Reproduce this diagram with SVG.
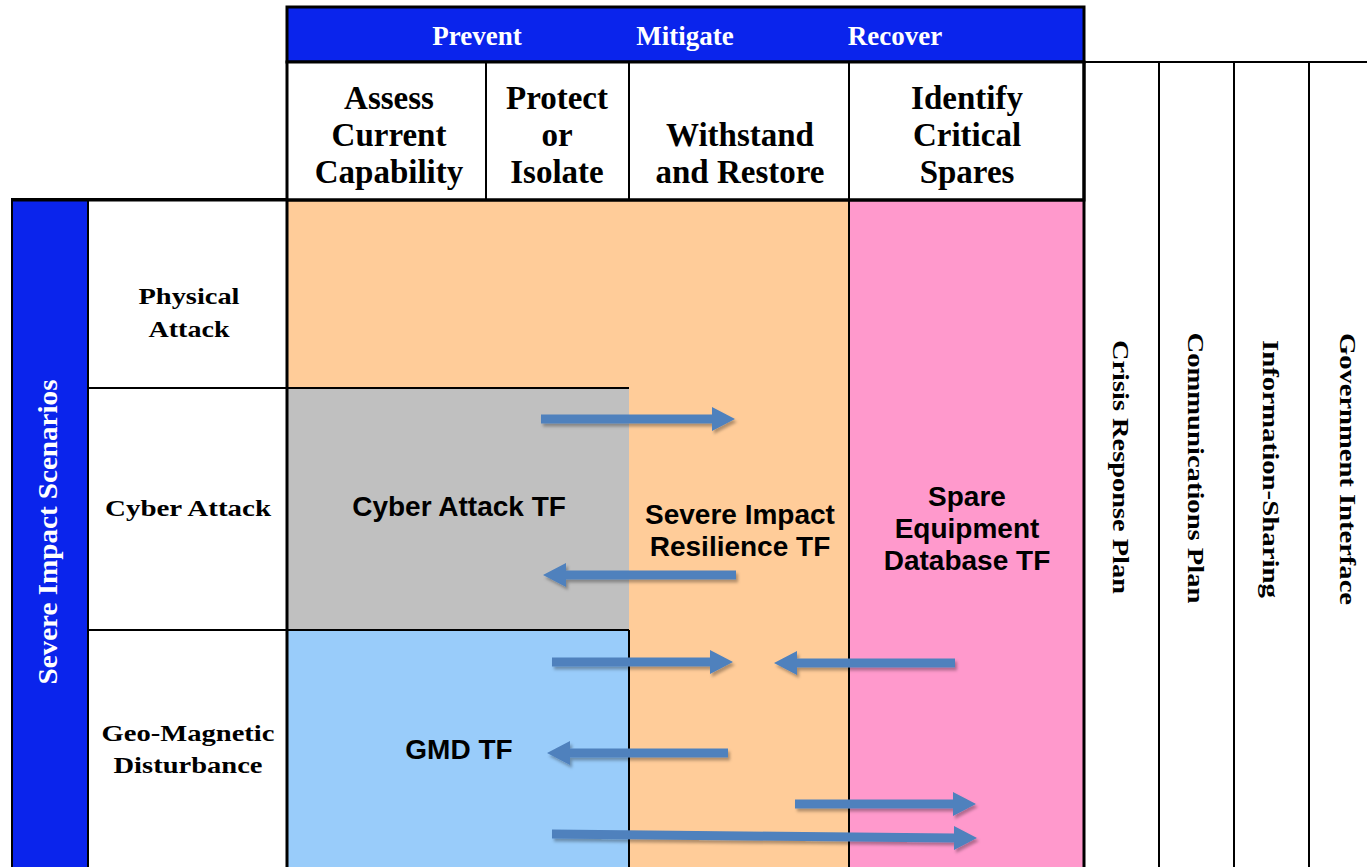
<svg xmlns="http://www.w3.org/2000/svg" width="1367" height="867" viewBox="0 0 1367 867">
<style>
.hdr{font-family:"Liberation Serif","Times New Roman",serif;font-weight:bold;font-size:33px;fill:#000;text-anchor:middle}
.ban{font-family:"Liberation Serif","Times New Roman",serif;font-weight:bold;font-size:27px;fill:#fff;text-anchor:middle}
.row{font-family:"Liberation Serif","Times New Roman",serif;font-weight:bold;font-size:24px;fill:#000;text-anchor:middle}
.vert{font-family:"Liberation Serif","Times New Roman",serif;font-weight:bold;font-size:24px;fill:#000;text-anchor:middle}
.tf{font-family:"Liberation Sans",Arial,sans-serif;font-weight:bold;font-size:28px;fill:#000;text-anchor:middle}
.thick{stroke:#000;stroke-width:3}
.thin{stroke:#000;stroke-width:2}
.blue{fill:#0A24EC}
.white{fill:#fff}
.arrow{fill:#4F81BD;filter:url(#sh)}
</style>
<defs>
<filter id="sh" x="-10%" y="-50%" width="120%" height="200%">
<feDropShadow dx="2" dy="3" stdDeviation="1.5" flood-color="#000" flood-opacity="0.3"/>
</filter>
</defs>
<rect width="1367" height="867" fill="#fff"/>

<g id="regions">
<rect x="287" y="200" width="562" height="667" fill="#FFCC99"/>
<rect x="849" y="200" width="235" height="667" fill="#FF99CC"/>
<rect x="287" y="388" width="342" height="242" fill="#C0C0C0"/>
<rect x="287" y="630" width="342" height="237" fill="#99CCFA"/>
</g>

<g id="banner">
<rect x="287" y="7" width="797" height="55" class="blue thick"/>
<text class="ban" x="477" y="45">Prevent</text>
<text class="ban" x="685" y="45">Mitigate</text>
<text class="ban" x="895" y="45">Recover</text>
</g>

<g id="header">
<rect x="287" y="62" width="797" height="138" class="white thick"/>
<line x1="486" y1="62" x2="486" y2="200" class="thin"/>
<line x1="629" y1="62" x2="629" y2="200" class="thin"/>
<line x1="849" y1="62" x2="849" y2="200" class="thin"/>
<text class="hdr" x="389" y="109">Assess</text>
<text class="hdr" x="389" y="146">Current</text>
<text class="hdr" x="389" y="183">Capability</text>
<text class="hdr" x="557" y="109">Protect</text>
<text class="hdr" x="557" y="146">or</text>
<text class="hdr" x="557" y="183">Isolate</text>
<text class="hdr" x="740" y="146">Withstand</text>
<text class="hdr" x="740" y="183">and Restore</text>
<text class="hdr" x="967" y="109">Identify</text>
<text class="hdr" x="967" y="146">Critical</text>
<text class="hdr" x="967" y="183">Spares</text>
</g>

<g id="scenarios">
<rect x="12" y="199" width="76" height="670" class="blue thin"/>
<text class="ban" font-size="30" transform="translate(57,532) rotate(-90)" textLength="305" lengthAdjust="spacingAndGlyphs">Severe Impact Scenarios</text>
</g>

<g id="row-labels">
<rect x="88" y="199" width="199" height="670" class="white thin"/>
<line x1="88" y1="388" x2="629" y2="388" class="thin"/>
<line x1="88" y1="630" x2="629" y2="630" class="thin"/>
<line x1="629" y1="630" x2="629" y2="867" class="thin"/>
<text class="row" x="189" y="304" textLength="101" lengthAdjust="spacingAndGlyphs">Physical</text>
<text class="row" x="189" y="337" textLength="81" lengthAdjust="spacingAndGlyphs">Attack</text>
<text class="row" x="188" y="516" textLength="166" lengthAdjust="spacingAndGlyphs">Cyber Attack</text>
<text class="row" x="188" y="741" textLength="173" lengthAdjust="spacingAndGlyphs">Geo-Magnetic</text>
<text class="row" x="188" y="773" textLength="149" lengthAdjust="spacingAndGlyphs">Disturbance</text>
</g>

<g id="grid-lines">
<line x1="12" y1="200" x2="1084" y2="200" class="thick"/>
<line x1="287" y1="200" x2="287" y2="867" class="thick"/>
<line x1="849" y1="200" x2="849" y2="867" class="thin"/>
<line x1="1084" y1="62" x2="1084" y2="867" class="thick"/>
</g>

<g id="tf-labels">
<text class="tf" x="459" y="516">Cyber Attack TF</text>
<text class="tf" x="740" y="524">Severe Impact</text>
<text class="tf" x="740" y="556">Resilience TF</text>
<text class="tf" x="967" y="506">Spare</text>
<text class="tf" x="967" y="538">Equipment</text>
<text class="tf" x="967" y="570">Database TF</text>
<text class="tf" x="459" y="759">GMD TF</text>
</g>

<g id="plans">
<line x1="1084" y1="62" x2="1367" y2="62" class="thin"/>
<line x1="1159" y1="62" x2="1159" y2="867" class="thin"/>
<line x1="1234" y1="62" x2="1234" y2="867" class="thin"/>
<line x1="1309" y1="62" x2="1309" y2="867" class="thin"/>
<text class="vert" transform="translate(1113,467) rotate(90)" textLength="254" lengthAdjust="spacingAndGlyphs">Crisis Response Plan</text>
<text class="vert" transform="translate(1188,468) rotate(90)" textLength="271" lengthAdjust="spacingAndGlyphs">Communications Plan</text>
<text class="vert" transform="translate(1263,469) rotate(90)" textLength="258" lengthAdjust="spacingAndGlyphs">Information-Sharing</text>
<text class="vert" transform="translate(1340,469) rotate(90)" textLength="272" lengthAdjust="spacingAndGlyphs">Government Interface</text>
</g>

<g id="connectors">
<polygon class="arrow" points="541,414.5 712,414.5 712,407 735,419 712,431 712,423.5 541,423.5"/>
<polygon class="arrow" points="736,570.5 566,570.5 566,563 543,575 566,587 566,579.5 736,579.5"/>
<polygon class="arrow" points="552,657.5 710,657.5 710,650 733,662 710,674 710,666.5 552,666.5"/>
<polygon class="arrow" points="955,658.5 797,658.5 797,651 774,663 797,675 797,667.5 955,667.5"/>
<polygon class="arrow" points="728,748.5 570,748.5 570,741 547,753 570,765 570,757.5 728,757.5"/>
<polygon class="arrow" points="795,799.5 953,799.5 953,792 976,804 953,816 953,808.5 795,808.5"/>
<polygon class="arrow" points="552,829.5 954,833.5 954,826 977,838 954,850 954,842.5 552,838.5"/>
</g>
</svg>
